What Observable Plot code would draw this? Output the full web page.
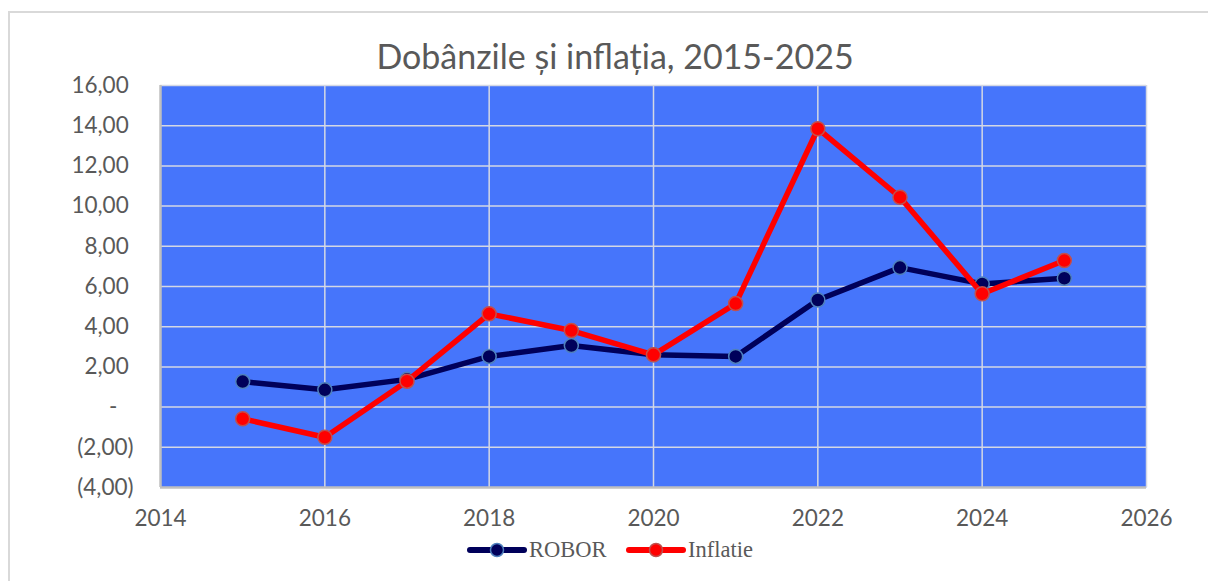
<!DOCTYPE html>
<html>
<head>
<meta charset="utf-8">
<script src="https://cdn.jsdelivr.net/npm/d3@7"></script>
<script src="https://cdn.jsdelivr.net/npm/@observablehq/plot@0.6"></script>
<style>
  html, body { margin: 0; padding: 0; background: #fff; overflow: hidden; }
  #wrap { position: relative; width: 1208px; height: 581px; overflow: hidden; }
  #frame { position: absolute; left: 8px; top: 11px; width: 1300px; height: 700px; border: 2px solid #d9d9d9; box-sizing: border-box; }
  #chart { position: absolute; left: 0; top: 0; }
  #title { position: absolute; left: 0; width: 1230px; top: 35px; text-align: center; font-family: Lato, "Open Sans", sans-serif; font-size: 34px; color: #595959; white-space: nowrap; }
  .leg { position: absolute; top: 536px; height: 28px; display: flex; align-items: center; font-family: "Liberation Serif", "DejaVu Serif", serif; font-size: 22.5px; color: #595959; }
  .leg svg { margin-right: 2px; }
</style>
</head>
<body>
<div id="wrap">
  <div id="frame"></div>
  <div id="chart"></div>
  <div id="title">Dobânzile și inflația, 2015-2025</div>
  <div id="legend"></div>
</div>
<script>
const years = [2015, 2016, 2017, 2018, 2019, 2020, 2021, 2022, 2023, 2024, 2025];
const robor = [1.27, 0.86, 1.38, 2.52, 3.06, 2.6, 2.52, 5.33, 6.94, 6.13, 6.41];
const inflatie = [-0.58, -1.5, 1.29, 4.64, 3.81, 2.6, 5.15, 13.85, 10.44, 5.64, 7.29];
const xTicks = [2014, 2016, 2018, 2020, 2022, 2024, 2026];
const yTicks = [-4, -2, 0, 2, 4, 6, 8, 10, 12, 14, 16];
const seriesNames = ["ROBOR", "Inflatie"];
const lineColors = ["#00005a", "#ff0000"];
const dotStrokes = ["#4f81bd", "#c0504d"];

const dataR = years.map((y, i) => ({year: y, value: robor[i]}));
const dataI = years.map((y, i) => ({year: y, value: inflatie[i]}));

function fmtY(v) {
  const s = Math.abs(v).toFixed(2).replace(".", ",");
  if (v === 0) return "-\u2002\u2008";
  if (v < 0) return "(" + s + ")";
  return s + "\u2008";
}

const chart = Plot.plot({
  width: 1208,
  height: 581,
  marginLeft: 160,
  marginRight: 62,
  marginTop: 85,
  marginBottom: 94,
  style: {fontFamily: "Lato, 'Open Sans', sans-serif", fontSize: "22.5px", color: "#595959", background: "transparent"},
  x: {domain: [2014, 2026], ticks: xTicks, tickFormat: d => String(d), tickSize: 0, tickPadding: 23, label: null},
  y: {domain: [-4, 16], ticks: yTicks, tickFormat: fmtY, tickSize: 0, tickPadding: 27, label: null},
  marks: [
    Plot.frame({fill: "#4675fb", stroke: null}),
    Plot.ruleY(yTicks.filter(d => d > -4), {stroke: "#d4d8e4", strokeWidth: 1.5}),
    Plot.ruleX(xTicks.filter(d => d > 2014), {stroke: "#d4d8e4", strokeWidth: 1.5}),
    Plot.ruleY([-4], {stroke: "#bfbfbf", strokeWidth: 2.5}),
    Plot.ruleX([2014], {stroke: "#bfbfbf", strokeWidth: 2.5}),
    Plot.line(dataR, {x: "year", y: "value", stroke: lineColors[0], strokeWidth: 5.5, strokeLinejoin: "round", strokeLinecap: "round"}),
    Plot.dot(dataR, {x: "year", y: "value", r: 7, fill: lineColors[0], stroke: dotStrokes[0], strokeWidth: 1.5}),
    Plot.line(dataI, {x: "year", y: "value", stroke: lineColors[1], strokeWidth: 5.5, strokeLinejoin: "round", strokeLinecap: "round"}),
    Plot.dot(dataI, {x: "year", y: "value", r: 7, fill: lineColors[1], stroke: dotStrokes[1], strokeWidth: 1.5})
  ]
});
document.getElementById("chart").appendChild(chart);

const legend = document.getElementById("legend");
const legLeft = [467, 626];
seriesNames.forEach((name, i) => {
  const d = document.createElement("div");
  d.className = "leg";
  d.style.left = legLeft[i] + "px";
  d.innerHTML = `<svg width="60" height="20"><line x1="3" y1="10" x2="57" y2="10" stroke="${lineColors[i]}" stroke-width="6" stroke-linecap="round"/><circle cx="30" cy="10" r="6.5" fill="${lineColors[i]}" stroke="${dotStrokes[i]}" stroke-width="1.5"/></svg><span>${name}</span>`;
  legend.appendChild(d);
});
</script>
</body>
</html>
